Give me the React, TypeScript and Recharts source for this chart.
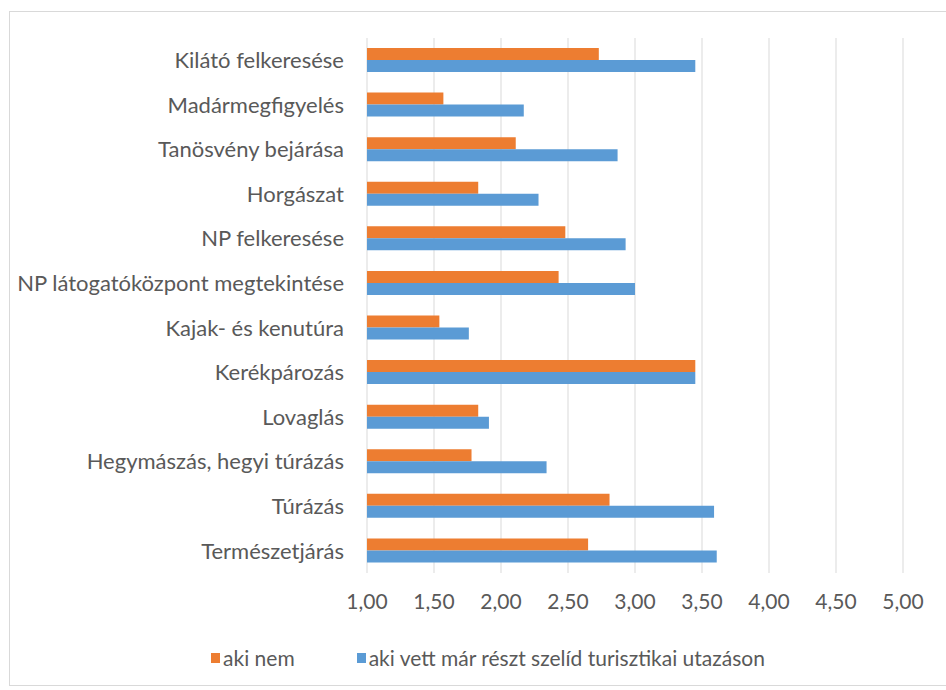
import React from "react";
import { BarChart, Bar, XAxis, YAxis, CartesianGrid, Legend } from "recharts";

const categories = [
  "Kilátó felkeresése",
  "Madármegfigyelés",
  "Tanösvény bejárása",
  "Horgászat",
  "NP felkeresése",
  "NP látogatóközpont megtekintése",
  "Kajak- és kenutúra",
  "Kerékpározás",
  "Lovaglás",
  "Hegymászás, hegyi túrázás",
  "Túrázás",
  "Természetjárás",
];

// aki nem
const akiNem = [2.73, 1.57, 2.11, 1.83, 2.48, 2.43, 1.54, 3.45, 1.83, 1.78, 2.81, 2.65];
// aki vett már részt szelíd turisztikai utazáson
const akiVett = [3.45, 2.17, 2.87, 2.28, 2.93, 3.0, 1.76, 3.45, 1.91, 2.34, 3.59, 3.61];

const xTicks = [1, 1.5, 2, 2.5, 3, 3.5, 4, 4.5, 5];

const seriesNames = ["aki nem", "aki vett már részt szelíd turisztikai utazáson"];
const ORANGE = "#ED7D31";
const BLUE = "#5B9BD5";
const TEXT = "#595959";
const FONT = "Lato, 'Open Sans', sans-serif";

const data = categories.map((name, i) => ({
  name,
  nem: akiNem[i],
  vett: akiVett[i],
}));

const LegendContent = () => (
  <div
    style={{
      display: "flex",
      justifyContent: "center",
      gap: 62,
      fontFamily: FONT,
      fontSize: 21,
      color: TEXT,
      paddingLeft: 30,
    }}
  >
    {[ORANGE, BLUE].map((c, i) => (
      <div key={i} style={{ display: "flex", alignItems: "center" }}>
        <span style={{ width: 9, height: 10, background: c, marginRight: 3, display: "inline-block" }} />
        <span>{seriesNames[i]}</span>
      </div>
    ))}
  </div>
);

export default function App() {
  return (
    <div style={{ position: "absolute", left: 0, top: 0, width: 946, height: 690, background: "#fff", overflow: "hidden" }}>
      <div
        style={{
          position: "absolute",
          left: 9,
          top: 11,
          width: 960,
          height: 673,
          border: "1px solid #d9d9d9",
        }}
      />
      <div style={{ position: "absolute", left: 0, top: 0 }}>
        <BarChart
          width={946}
          height={690}
          layout="vertical"
          data={data}
          margin={{ top: 38, right: 43, bottom: 0, left: 0 }}
          barGap={0}
          barSize={12}
        >
          <CartesianGrid horizontal={false} stroke="#d9d9d9" />
          <XAxis
            type="number"
            domain={[1, 5]}
            ticks={xTicks}
            axisLine={false}
            tickLine={false}
            tickFormatter={(v: number) => v.toFixed(2).replace(".", ",")}
            tick={{ fill: TEXT, fontSize: 21, fontFamily: FONT }}
            tickMargin={15}
            height={92}
          />
          <YAxis
            type="category"
            dataKey="name"
            width={367}
            axisLine={false}
            tickLine={false}
            tick={{ fill: TEXT, fontSize: 22, fontFamily: FONT }}
            tickMargin={17}
            interval={0}
          />
          <Legend
            verticalAlign="bottom"
            content={<LegendContent />}
            wrapperStyle={{ left: 0, width: 946, bottom: 20 }}
          />
          <Bar dataKey="nem" name={seriesNames[0]} fill={ORANGE} isAnimationActive={false} />
          <Bar dataKey="vett" name={seriesNames[1]} fill={BLUE} isAnimationActive={false} />
        </BarChart>
      </div>
    </div>
  );
}
